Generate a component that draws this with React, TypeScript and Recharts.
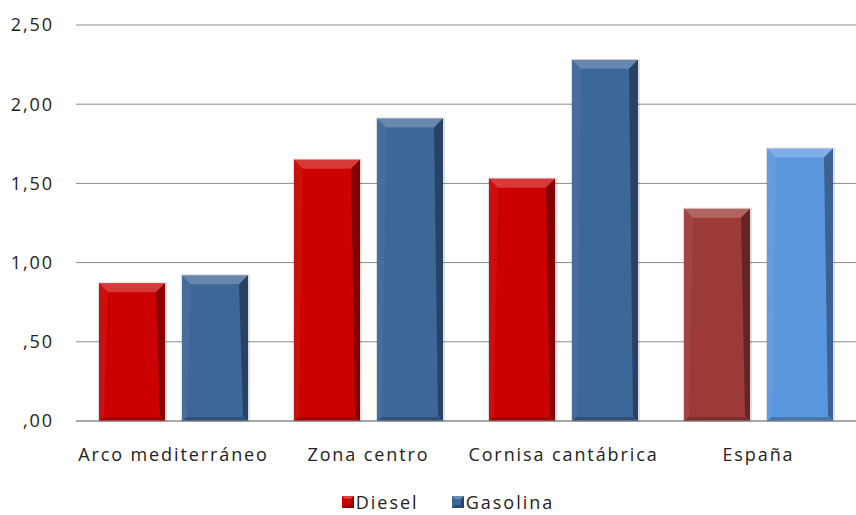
import React from 'react'
import { BarChart, Bar, XAxis, YAxis, CartesianGrid, Cell, Legend } from 'recharts'

const categories = ['Arco mediterráneo', 'Zona centro', 'Cornisa cantábrica', 'España']
const diesel = [0.87, 1.65, 1.53, 1.34]
const gasolina = [0.92, 1.91, 2.28, 1.72]
const yTicks = [0, 0.5, 1, 1.5, 2, 2.5]

const dieselColors = ['#CC0000', '#CC0000', '#CC0000', '#9C3A38']
const gasolinaColors = ['#3D6699', '#3D6699', '#3D6699', '#5B97DE']

const data = categories.map((name, i) => ({ name, diesel: diesel[i], gasolina: gasolina[i] }))

const fmt = (v: number) => {
  const s = v.toFixed(2).replace('.', ',')
  return s.startsWith('0') ? s.slice(1) : s
}

const font = "'Open Sans', sans-serif"

function BevelBar(props: any) {
  const { x, y, width: w, height: h, fill } = props
  if (!h || h <= 0) return null
  const t = 9
  const s = 5
  const c = 9
  return (
    <g>
      <rect x={x - 1} y={y - 1} width={w + 3} height={h + 2} fill="#000" opacity={0.12} />
      <rect x={x} y={y} width={w} height={h} fill={fill} />
      <polygon points={`${x},${y} ${x + w},${y} ${x + w - c},${y + t} ${x + c},${y + t}`} fill="#fff" opacity={0.22} />
      <polygon points={`${x},${y} ${x + c},${y + t} ${x + s},${y + h - s} ${x},${y + h}`} fill="#fff" opacity={0.05} />
      <polygon points={`${x + w},${y} ${x + w},${y + h} ${x + w - s},${y + h - s} ${x + w - c},${y + t}`} fill="#000" opacity={0.35} />
      <polygon points={`${x},${y + h} ${x + w},${y + h} ${x + w - s},${y + h - 4} ${x + s},${y + h - 4}`} fill="#000" opacity={0.22} />
    </g>
  )
}

function LegendBox({ color }: { color: string }) {
  return (
    <svg width={12} height={12} style={{ marginRight: 2 }}>
      <rect x={0} y={0} width={12} height={12} fill={color} />
      <polygon points="0,0 12,0 9,3 3,3" fill="#fff" opacity={0.25} />
      <polygon points="12,0 12,12 9,9 9,3" fill="#000" opacity={0.35} />
      <polygon points="0,12 12,12 9,9 3,9" fill="#000" opacity={0.25} />
    </svg>
  )
}

function LegendContent() {
  return (
    <div style={{ height: 54, paddingLeft: 40, paddingBottom: 3, boxSizing: 'border-box', display: 'flex', alignItems: 'flex-end', justifyContent: 'center', fontFamily: font, fontSize: 18, lineHeight: '20px', color: '#222', letterSpacing: 2 }}>
      <div style={{ display: 'flex', alignItems: 'center', marginRight: 33 }}>
        <LegendBox color="#CC0000" />
        <span>Diesel</span>
      </div>
      <div style={{ display: 'flex', alignItems: 'center' }}>
        <LegendBox color="#3D6699" />
        <span>Gasolina</span>
      </div>
    </div>
  )
}

export default function App() {
  return (
    <div style={{ position: 'absolute', left: 0, top: 0, background: '#fff' }}>
      <BarChart
        width={856}
        height={515}
        data={data}
        margin={{ top: 25, right: 0, bottom: 0, left: 0 }}
        barCategoryGap={23}
        barGap={17}
      >
        <CartesianGrid vertical={false} stroke="#8c8c8c" />
        <XAxis
          dataKey="name"
          height={40}
          axisLine={{ stroke: '#8c8c8c' }}
          tickLine={false}
          tickSize={0}
          tickMargin={27}
          tick={{ fill: '#222', fontSize: 18, fontFamily: font, letterSpacing: 1.9 }}
        />
        <YAxis
          width={76}
          domain={[0, 2.5]}
          ticks={yTicks}
          tickFormatter={fmt}
          axisLine={false}
          tickLine={false}
          tickSize={0}
          tickMargin={22}
          tick={{ fill: '#222', fontSize: 18, fontFamily: font, letterSpacing: 1.9 }}
        />
        <Bar dataKey="diesel" name="Diesel" shape={<BevelBar />} isAnimationActive={false}>
          {dieselColors.map((c, i) => (
            <Cell key={i} fill={c} />
          ))}
        </Bar>
        <Bar dataKey="gasolina" name="Gasolina" shape={<BevelBar />} isAnimationActive={false}>
          {gasolinaColors.map((c, i) => (
            <Cell key={i} fill={c} />
          ))}
        </Bar>
        <Legend verticalAlign="bottom" content={<LegendContent />} />
      </BarChart>
    </div>
  )
}
